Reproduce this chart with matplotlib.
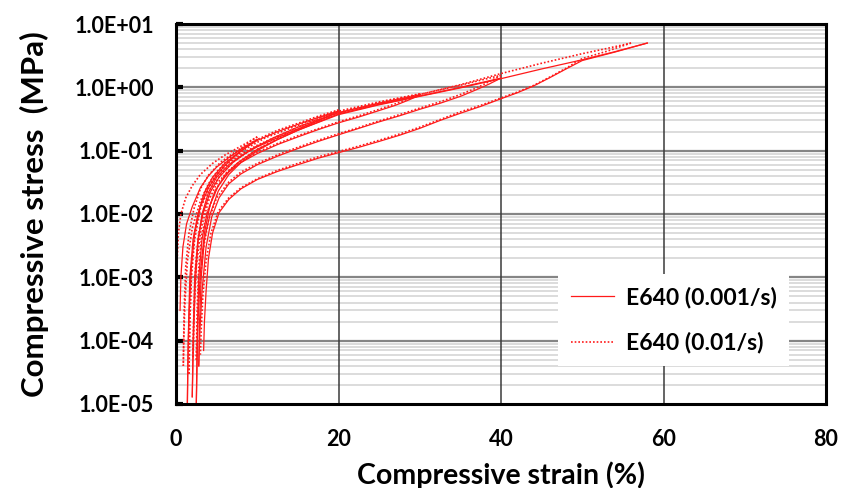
import matplotlib
matplotlib.use("Agg")
import matplotlib.pyplot as plt
from matplotlib.lines import Line2D
from matplotlib.ticker import FixedLocator, FuncFormatter, NullFormatter
import numpy as np

plt.rcParams['font.family'] = ['Lato', 'DejaVu Sans']
plt.rcParams['font.weight'] = 'bold'

# ---------------- data (strain %, stress MPa) ----------------
# E640 at 0.001/s (solid)
slow_load_1 = [(0.5, 3e-4), (0.6, 1e-3), (0.85, 3e-3), (1.3, 7e-3), (2.0, 1.3e-2), (3.0, 2.6e-2),
               (4.0, 4.0e-2), (5.0, 5.5e-2), (6.5, 7.8e-2), (8.0, 0.105), (10.0, 0.15)]
slow_unload_1 = [(10.0, 0.15), (9.0, 0.122), (8.0, 0.098), (7.0, 0.077), (6.0, 0.058), (5.0, 0.041),
                 (4.0, 0.026), (3.0, 0.013), (2.3, 5e-3), (1.9, 1.5e-3), (1.6, 2.5e-4), (1.45, 4e-5), (1.4, 1e-5)]
slow_load_2 = [(1.4, 1e-5), (1.5, 1e-4), (1.7, 1e-3), (2.1, 4e-3), (2.7, 1e-2), (3.5, 2.2e-2), (4.5, 3.8e-2),
               (6.0, 6.3e-2), (8.0, 0.1), (10.0, 0.145), (12.5, 0.2), (15.0, 0.26), (17.5, 0.335), (20.0, 0.42)]
slow_unload_2 = [(20.0, 0.42), (18.5, 0.34), (17.0, 0.28), (15.0, 0.22), (12.5, 0.16), (10.0, 0.115),
                 (8.0, 0.083), (6.5, 0.06), (5.0, 0.038), (4.0, 0.022), (3.2, 0.01), (2.7, 3.5e-3),
                 (2.35, 7e-4), (2.15, 1e-4), (2.0, 1.3e-5)]
slow_load_3 = [(2.0, 1.3e-5), (2.1, 1e-4), (2.3, 1e-3), (2.7, 4e-3), (3.3, 1e-2), (4.2, 2.2e-2), (5.3, 3.8e-2),
               (7.0, 6.5e-2), (9.0, 0.1), (12.0, 0.16), (15.0, 0.235), (20.0, 0.40), (25.0, 0.56), (30.0, 0.75)]
slow_unload_3 = [(30.0, 0.75), (28.5, 0.62), (27.0, 0.52), (25.0, 0.43), (22.5, 0.34), (20.0, 0.275),
                 (17.5, 0.215), (15.0, 0.165), (12.5, 0.125), (10.0, 0.09), (8.0, 0.065), (6.5, 0.046),
                 (5.2, 0.028), (4.2, 0.014), (3.5, 5e-3), (3.0, 1.2e-3), (2.7, 2e-4), (2.5, 1e-5)]
slow_load_4 = [(2.5, 1e-5), (2.6, 1e-4), (2.8, 1e-3), (3.2, 4e-3), (3.8, 1e-2), (4.8, 2.3e-2), (6.0, 4e-2),
               (7.5, 6.3e-2), (10.0, 0.105), (12.5, 0.15), (15.0, 0.21), (20.0, 0.38), (25.0, 0.54),
               (30.0, 0.73), (35.0, 1.0), (40.0, 1.4)]
slow_unload_4 = [(40.0, 1.4), (38.5, 1.12), (37.0, 0.92), (35.0, 0.72), (32.5, 0.56), (30.0, 0.45),
                 (27.5, 0.355), (25.0, 0.285), (22.5, 0.225), (20.0, 0.178), (17.5, 0.14), (15.0, 0.108),
                 (12.5, 0.082), (10.0, 0.06), (8.0, 0.043), (6.5, 0.03), (5.3, 0.018), (4.4, 9e-3),
                 (3.7, 3e-3), (3.2, 6e-4), (2.95, 1.5e-4), (2.8, 4e-5)]
slow_load_5 = [(2.8, 4e-5), (2.9, 2e-4), (3.1, 1e-3), (3.5, 4e-3), (4.2, 1e-2), (5.2, 2.3e-2), (6.5, 4.2e-2),
               (8.0, 6.5e-2), (10.0, 0.1), (12.5, 0.15), (15.0, 0.21), (20.0, 0.37), (25.0, 0.53),
               (30.0, 0.72), (35.0, 0.98), (40.0, 1.37), (45.0, 1.95), (50.0, 2.72), (54.0, 3.65), (58.0, 5.0)]
slow_unload_5 = [(58.0, 5.0), (54.0, 3.6), (50.0, 2.65), (48.0, 1.95), (46.0, 1.42), (44.0, 1.05),
                 (42.0, 0.82), (40.0, 0.66), (37.5, 0.5), (35.0, 0.39), (32.5, 0.3), (30.0, 0.225),
                 (27.5, 0.175), (25.0, 0.14), (22.5, 0.113), (20.0, 0.093), (17.5, 0.076), (15.0, 0.06),
                 (12.5, 0.047), (10.0, 0.035), (8.0, 0.025), (6.5, 0.017), (5.3, 0.0105), (4.5, 5e-3),
                 (4.0, 2e-3), (3.7, 6e-4), (3.5, 2e-4), (3.4, 7e-5)]

# E640 at 0.01/s (dotted)
fast_load_1 = [(0.1, 5e-4), (0.15, 2e-3), (0.3, 5e-3), (0.6, 1e-2), (1.2, 1.8e-2), (2.0, 2.8e-2),
               (3.0, 4.2e-2), (4.5, 6.3e-2), (6.0, 8.5e-2), (8.0, 0.118), (10.0, 0.165)]
fast_unload_1 = [(10.0, 0.165), (9.0, 0.135), (8.0, 0.108), (7.0, 0.085), (6.0, 0.064), (5.0, 0.046),
                 (4.0, 0.03), (3.0, 0.016), (2.0, 6e-3), (1.4, 1.8e-3), (1.1, 4e-4), (0.95, 1e-4), (0.9, 4e-5)]
fast_load_2 = [(0.9, 4e-5), (1.0, 3e-4), (1.2, 1.5e-3), (1.6, 5e-3), (2.2, 1.2e-2), (3.0, 2.5e-2),
               (4.0, 4.1e-2), (5.5, 6.6e-2), (7.5, 0.1), (10.0, 0.15), (12.5, 0.21), (15.0, 0.27),
               (17.5, 0.35), (20.0, 0.44)]
fast_unload_2 = [(20.0, 0.44), (18.5, 0.36), (17.0, 0.3), (15.0, 0.235), (12.5, 0.17), (10.0, 0.122),
                 (8.0, 0.088), (6.5, 0.064), (5.0, 0.041), (4.0, 0.025), (3.0, 0.012), (2.3, 4e-3),
                 (1.9, 1e-3), (1.7, 2e-4), (1.6, 3e-5)]
fast_load_3 = [(1.6, 3e-5), (1.7, 2e-4), (1.9, 1.5e-3), (2.3, 5e-3), (2.9, 1.2e-2), (3.8, 2.5e-2),
               (5.0, 4.3e-2), (6.5, 6.8e-2), (8.5, 0.105), (11.0, 0.16), (15.0, 0.25), (20.0, 0.42),
               (25.0, 0.59), (30.0, 0.79)]
fast_unload_3 = [(30.0, 0.79), (28.5, 0.65), (27.0, 0.55), (25.0, 0.45), (22.5, 0.355), (20.0, 0.285),
                 (17.5, 0.222), (15.0, 0.172), (12.5, 0.13), (10.0, 0.095), (8.0, 0.069), (6.5, 0.049),
                 (5.0, 0.03), (4.0, 0.016), (3.1, 6e-3), (2.5, 1.5e-3), (2.2, 2.5e-4), (2.1, 5.5e-5)]
fast_load_4 = [(2.1, 5.5e-5), (2.2, 3e-4), (2.4, 1.5e-3), (2.8, 5e-3), (3.4, 1.1e-2), (4.3, 2.4e-2),
               (5.5, 4.2e-2), (7.0, 6.6e-2), (9.5, 0.11), (12.5, 0.165), (15.0, 0.22), (20.0, 0.4),
               (25.0, 0.57), (30.0, 0.77), (35.0, 1.08), (40.0, 1.55)]
fast_unload_4 = [(40.0, 1.55), (38.5, 1.22), (37.0, 0.98), (35.0, 0.77), (32.5, 0.59), (30.0, 0.47),
                 (27.5, 0.37), (25.0, 0.295), (22.5, 0.232), (20.0, 0.185), (17.5, 0.146), (15.0, 0.113),
                 (12.5, 0.086), (10.0, 0.063), (8.0, 0.046), (6.5, 0.032), (5.0, 0.018), (4.0, 8e-3),
                 (3.3, 2.5e-3), (2.8, 5e-4), (2.6, 1.2e-4), (2.5, 5e-5)]
fast_load_5 = [(2.5, 5e-5), (2.6, 3e-4), (2.8, 1.5e-3), (3.2, 5e-3), (3.9, 1.1e-2), (4.9, 2.4e-2),
               (6.2, 4.4e-2), (8.0, 7e-2), (10.0, 0.105), (12.5, 0.155), (15.0, 0.215), (20.0, 0.39),
               (25.0, 0.56), (30.0, 0.77), (35.0, 1.1), (40.0, 1.65), (45.0, 2.4), (50.0, 3.4),
               (53.0, 4.1), (56.0, 5.0)]
fast_unload_5 = [(56.0, 5.0), (53.0, 3.7), (50.0, 2.85), (48.0, 2.0), (46.0, 1.45), (44.0, 1.07),
                 (42.0, 0.84), (40.0, 0.68), (37.5, 0.52), (35.0, 0.41), (32.5, 0.31), (30.0, 0.235),
                 (27.5, 0.183), (25.0, 0.146), (22.5, 0.118), (20.0, 0.097), (17.5, 0.08), (15.0, 0.063),
                 (12.5, 0.049), (10.0, 0.036), (8.0, 0.026), (6.5, 0.018), (5.2, 0.011), (4.3, 5e-3),
                 (3.7, 1.8e-3), (3.3, 5e-4), (3.1, 1.5e-4), (3.0, 6e-5)]

slow_curves = [slow_load_1, slow_unload_1, slow_load_2, slow_unload_2, slow_load_3, slow_unload_3,
               slow_load_4, slow_unload_4, slow_load_5, slow_unload_5]
fast_curves = [fast_load_1, fast_unload_1, fast_load_2, fast_unload_2, fast_load_3, fast_unload_3,
               fast_load_4, fast_unload_4, fast_load_5, fast_unload_5]

legend_labels = ["E640 (0.001/s)", "E640 (0.01/s)"]
x_ticks = [0, 20, 40, 60, 80]
y_ticks = [1e-5, 1e-4, 1e-3, 1e-2, 1e-1, 1e0, 1e1]

# ---------------- figure ----------------
W, H = 843, 488
fig = plt.figure(figsize=(W / 100, H / 100), dpi=100)
ax = fig.add_axes([176 / W, 1 - 404 / H, (826 - 176) / W, (404 - 24) / H])
ax.set_yscale('log')
ax.set_xlim(0, 80)
ax.set_ylim(1e-5, 1e1)

# grid
minor_y = [m * 10.0 ** e for e in range(-5, 1) for m in range(2, 10)]
for v in minor_y:
    ax.axhline(v, color='#d9d9d9', lw=1.3, zorder=0)
for v in y_ticks[1:-1]:
    ax.axhline(v, color='#858585', lw=1.6, zorder=0.5)
for v in x_ticks[1:-1]:
    ax.axvline(v, color='#3a3a3a', lw=1.1, zorder=0.5)

red = '#ff1a1a'
for c in slow_curves:
    a = np.array(c)
    ax.plot(a[:, 0], a[:, 1], color=red, lw=0.9, ls='-', zorder=2)
for c in fast_curves:
    a = np.array(c)
    ax.plot(a[:, 0], a[:, 1], color=red, lw=1.2, ls=(0, (1, 1.2)), zorder=2)

ax.xaxis.set_major_locator(FixedLocator(x_ticks))
ax.yaxis.set_major_locator(FixedLocator(y_ticks))
ax.yaxis.set_minor_formatter(NullFormatter())
ax.yaxis.set_minor_locator(FixedLocator([]))
ax.yaxis.set_major_formatter(FuncFormatter(lambda v, p: f"{v:.1E}"))
ax.tick_params(axis='y', which='major', direction='in', length=5, width=3, pad=16,
               labelsize=15.5, colors='black')
ax.tick_params(axis='x', which='major', length=0, pad=18, labelsize=15.5)
for lab in ax.get_xticklabels() + ax.get_yticklabels():
    lab.set_fontweight('bold')

for s in ax.spines.values():
    s.set_linewidth(2.2)
    s.set_color('black')
    s.set_zorder(3)

ax.set_xlabel("Compressive strain (%)", fontsize=20.5, fontweight='bold', labelpad=8)
ax.set_ylabel("Compressive stress  (MPa)", fontsize=22.5, fontweight='bold', labelpad=18)

handles = [Line2D([], [], color=red, lw=0.9, ls='-'),
           Line2D([], [], color=red, lw=1.2, ls=(0, (1, 1.2)))]
leg = ax.legend(handles, legend_labels, loc='center', bbox_to_anchor=(673.5 / W, 1 - 320 / H),
                bbox_transform=fig.transFigure, frameon=True, fancybox=False, framealpha=1,
                facecolor='white', edgecolor='none', prop={'size': 16.5, 'weight': 'bold'},
                handlelength=1.9, handletextpad=0.5, labelspacing=1.05, borderpad=0.55)
leg.set_zorder(5)

fig.savefig("out.png", dpi=100)
